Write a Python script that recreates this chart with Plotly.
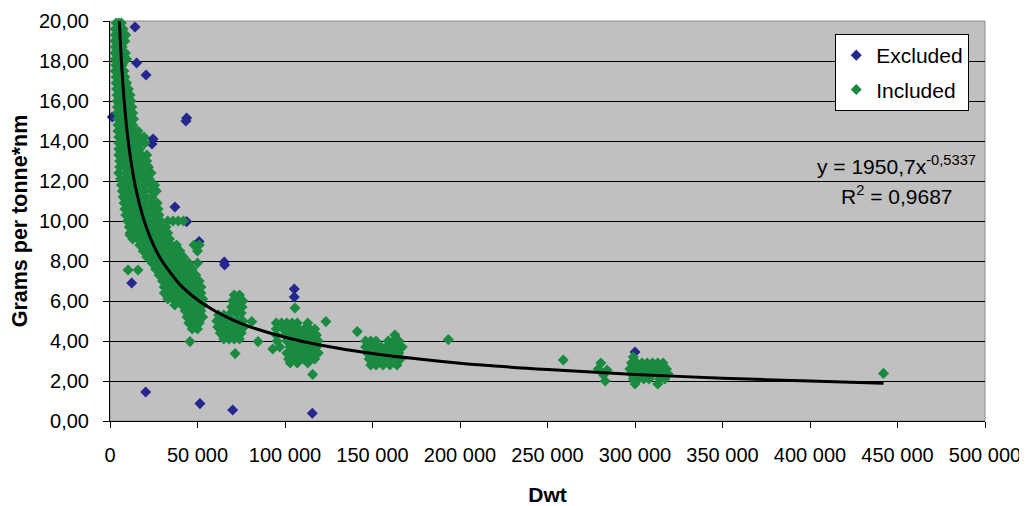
import plotly.graph_objects as go

# ---------------- data ----------------
# Excluded ships (blue)
excluded_dwt = [14300, 15200, 20600, 1300, 43400, 43800, 24600, 24000, 37100, 43800,
                50900, 65300, 65500, 12400, 105300, 105300, 20400, 51400, 70100, 115600, 300000]
excluded_g = [19.7, 17.9, 17.3, 15.2, 15.0, 15.15, 14.1, 13.85, 10.7, 9.97,
              8.97, 7.95, 7.8, 6.9, 6.6, 6.2, 1.45, 0.87, 0.55, 0.39, 3.45]

# Included ships (green), grouped by size cluster as (dwt, grams) pairs
cluster_small = [
    (3500, 19.9), (5000, 19.9), (6500, 19.9),
    (3000, 19.6), (4500, 19.6), (6000, 19.6), (7500, 19.6),
    (3000, 19.3), (5000, 19.3), (7000, 19.3), (9000, 19.3),
    (2800, 19.0), (4500, 19.0), (6500, 19.0), (8500, 19.0),
    (3000, 18.7), (5000, 18.7), (7000, 18.7),
    (2800, 18.4), (4800, 18.4), (6800, 18.4), (8800, 18.4),
    (3000, 18.1), (5500, 18.1), (8000, 18.1), (9500, 18.1),
    (3200, 17.8), (5000, 17.8), (7000, 17.8),
    (3000, 17.5), (5500, 17.5), (8000, 17.5),
    (3500, 17.2), (6000, 17.2), (8500, 17.2),
    (3500, 16.9), (5500, 16.9), (7500, 16.9), (9500, 16.9),
    (3800, 16.6), (6000, 16.6), (8500, 16.6), (10500, 16.6),
    (4000, 16.3), (6500, 16.3), (9000, 16.3), (11500, 16.3),
    (4000, 16.0), (6500, 16.0), (9000, 16.0), (12000, 16.0),
    (4200, 15.7), (7000, 15.7), (9500, 15.7), (12500, 15.7),
    (4200, 15.4), (7000, 15.4), (10000, 15.4), (13000, 15.4),
    (4500, 15.1), (7500, 15.1), (10500, 15.1), (13500, 15.1),
    (4500, 14.8), (7000, 14.8), (10000, 14.8), (13000, 14.8),
    (4500, 14.5), (7500, 14.5), (10500, 14.5), (13500, 14.5), (16000, 14.5),
    (5000, 14.2), (8000, 14.2), (11000, 14.2), (14000, 14.2), (17000, 14.2), (19500, 14.2),
    (5000, 13.9), (8000, 13.9), (11000, 13.9), (14000, 13.9), (17000, 13.9), (20000, 13.9),
    (5000, 13.6), (8000, 13.6), (11000, 13.6), (14000, 13.6), (17000, 13.6),
    (5000, 13.3), (8500, 13.3), (11500, 13.3), (14500, 13.3), (18000, 13.3), (21000, 13.3),
    (5500, 13.0), (8500, 13.0), (11500, 13.0), (14500, 13.0), (17500, 13.0), (21000, 13.0),
    (5500, 12.7), (9000, 12.7), (12000, 12.7), (15000, 12.7), (18500, 12.7), (22000, 12.7),
    (5000, 12.4), (9000, 12.4), (12000, 12.4), (15000, 12.4), (18000, 12.4), (21500, 12.4), (23500, 12.4),
    (6000, 12.1), (9500, 12.1), (12500, 12.1), (16000, 12.1), (19000, 12.1), (22500, 12.1),
    (6500, 11.8), (10000, 11.8), (13000, 11.8), (16000, 11.8), (19500, 11.8), (23000, 11.8), (25500, 11.8),
    (7000, 11.5), (10000, 11.5), (13000, 11.5), (16500, 11.5), (20000, 11.5), (24000, 11.5), (26500, 11.5),
    (7500, 11.2), (10500, 11.2), (13500, 11.2), (17000, 11.2), (20500, 11.2), (24000, 11.2),
    (8000, 10.9), (11000, 10.9), (14000, 10.9), (17000, 10.9), (20500, 10.9), (24000, 10.9), (27000, 10.9),
    (8500, 10.6), (11500, 10.6), (14500, 10.6), (18000, 10.6), (21000, 10.6), (24500, 10.6), (27500, 10.6),
    (9000, 10.3), (12000, 10.3), (15000, 10.3), (18000, 10.3), (21500, 10.3), (25000, 10.3), (28000, 10.3),
    (10000, 10.0), (13000, 10.0), (16000, 10.0), (19000, 10.0), (22000, 10.0), (25500, 10.0),
    (29000, 10.0), (33000, 10.0), (36000, 10.0), (39000, 10.0), (42000, 10.0),
    (11000, 9.7), (14000, 9.7), (17000, 9.7), (20000, 9.7), (23000, 9.7), (26000, 9.7), (29000, 9.7), (32000, 9.7),
    (11500, 9.4), (15000, 9.4), (18000, 9.4), (21000, 9.4), (24000, 9.4), (27000, 9.4), (30000, 9.4), (33000, 9.4),
    (13000, 9.1), (16000, 9.1), (19000, 9.1), (22000, 9.1), (25000, 9.1), (28000, 9.1), (31000, 9.1), (34000, 9.1),
    (11400, 9.3), (10300, 7.55), (16000, 7.55),
]

cluster_handy = [
    (17000, 8.8), (20000, 8.8), (23000, 8.8), (26000, 8.8), (29000, 8.8), (32000, 8.8), (35000, 8.8),
    (38000, 8.8), (48000, 8.8), (51000, 8.8),
    (19000, 8.5), (22000, 8.5), (25000, 8.5), (28000, 8.5), (31000, 8.5), (34000, 8.5), (37000, 8.5),
    (40000, 8.5), (50000, 8.5),
    (21000, 8.2), (24000, 8.2), (27000, 8.2), (30000, 8.2), (33000, 8.2), (36000, 8.2), (39000, 8.2), (42000, 8.2),
    (24000, 7.9), (27000, 7.9), (30000, 7.9), (33000, 7.9), (36000, 7.9), (39000, 7.9), (42000, 7.9),
    (45000, 7.9), (50000, 7.9),
    (26000, 7.6), (29000, 7.6), (32000, 7.6), (35000, 7.6), (38000, 7.6), (41000, 7.6), (44000, 7.6), (47000, 7.6),
    (28000, 7.3), (31000, 7.3), (34000, 7.3), (37000, 7.3), (40000, 7.3), (43000, 7.3), (46000, 7.3), (49000, 7.3),
    (30000, 7.0), (33000, 7.0), (36000, 7.0), (39000, 7.0), (42000, 7.0), (45000, 7.0), (48000, 7.0), (51000, 7.0),
    (31000, 6.7), (34000, 6.7), (37000, 6.7), (40000, 6.7), (43000, 6.7), (46000, 6.7), (49000, 6.7), (52000, 6.7),
    (31000, 6.4), (34000, 6.4), (37000, 6.4), (40000, 6.4), (43000, 6.4), (46000, 6.4), (49000, 6.4), (52000, 6.4),
    (33000, 6.1), (36000, 6.1), (39000, 6.1), (42000, 6.1), (45000, 6.1), (48000, 6.1), (51000, 6.1), (53000, 6.1),
    (37000, 5.8), (41000, 5.8), (44000, 5.8), (47000, 5.8), (50000, 5.8), (53000, 5.8),
    (43000, 5.5), (46000, 5.5), (49000, 5.5), (52000, 5.5),
    (44000, 5.2), (47000, 5.2), (50000, 5.2), (53000, 5.2),
    (45000, 4.9), (48000, 4.9), (51000, 4.9),
    (47000, 4.6), (50000, 4.6),
    (45700, 3.97),
]

cluster_panamax = [
    (71000, 6.3), (74000, 6.3),
    (70000, 6.0), (73000, 6.0), (76000, 6.0),
    (69500, 5.7), (72500, 5.7), (75500, 5.7),
    (69000, 5.4), (72000, 5.4), (75000, 5.4),
    (62000, 5.3), (65000, 5.3),
    (61000, 5.0), (64000, 5.0), (67000, 5.0), (70000, 5.0), (73000, 5.0), (76000, 5.0),
    (61500, 4.7), (64500, 4.7), (67500, 4.7), (70500, 4.7), (73500, 4.7), (76500, 4.7),
    (63000, 4.4), (66000, 4.4), (69000, 4.4), (72000, 4.4), (75000, 4.4),
    (65000, 4.1), (68000, 4.1), (71000, 4.1), (74000, 4.1),
    (71500, 3.37), (84600, 3.97), (81000, 4.97),
]

cluster_aframax = [
    (95000, 4.9), (98000, 4.9), (101000, 4.9), (104000, 4.9), (107000, 4.9), (113000, 4.9),
    (95000, 4.6), (99000, 4.6), (102000, 4.6), (105000, 4.6), (108000, 4.6), (111000, 4.6), (114000, 4.6), (117000, 4.6),
    (95000, 4.3), (100000, 4.3), (103000, 4.3), (106000, 4.3), (109000, 4.3), (112000, 4.3), (115000, 4.3), (118000, 4.3),
    (95500, 4.0), (101000, 4.0), (104000, 4.0), (107000, 4.0), (110000, 4.0), (113000, 4.0), (116000, 4.0), (119000, 4.0),
    (97000, 3.7), (103000, 3.7), (106000, 3.7), (109000, 3.7), (112000, 3.7), (115000, 3.7), (118000, 3.7),
    (101000, 3.4), (104000, 3.4), (107000, 3.4), (110000, 3.4), (113000, 3.4), (116000, 3.4), (119000, 3.4),
    (102000, 3.1), (105000, 3.1), (108000, 3.1), (111000, 3.1), (114000, 3.1), (117000, 3.1),
    (103000, 2.9), (107000, 2.9), (113000, 2.9),
    (105700, 5.65), (115800, 2.33), (123400, 4.97), (93000, 3.6),
]

cluster_suezmax = [
    (162800, 4.3),
    (146000, 4.0), (149000, 4.0), (152000, 4.0), (159000, 4.0), (162000, 4.0), (165000, 4.0),
    (146000, 3.7), (149000, 3.7), (152000, 3.7), (155000, 3.7), (158000, 3.7), (161000, 3.7), (164000, 3.7), (167000, 3.7),
    (147000, 3.4), (150000, 3.4), (153000, 3.4), (156000, 3.4), (159000, 3.4), (162000, 3.4), (165000, 3.4),
    (148000, 3.1), (151000, 3.1), (154000, 3.1), (157000, 3.1), (160000, 3.1), (163000, 3.1), (166000, 3.1),
    (149000, 2.8), (152000, 2.8), (156000, 2.8), (160000, 2.8), (164000, 2.8),
    (141300, 4.47), (193300, 4.07),
]

cluster_vlcc = [
    (259000, 3.05),
    (279000, 2.6), (280500, 2.9), (282000, 2.3), (283000, 2.0), (284000, 2.55),
    (299000, 3.2),
    (298000, 2.9), (301000, 2.9), (304000, 2.9), (307000, 2.9), (310000, 2.9), (313000, 2.9), (316000, 2.9),
    (297000, 2.6), (300000, 2.6), (303000, 2.6), (306000, 2.6), (309000, 2.6), (312000, 2.6), (315000, 2.6), (318000, 2.6),
    (298000, 2.35), (301000, 2.35), (304000, 2.35), (307000, 2.35), (310000, 2.35), (313000, 2.35), (316000, 2.35), (319000, 2.35),
    (299000, 2.1), (302000, 2.1), (305000, 2.1), (308000, 2.1), (314000, 2.1), (317000, 2.1),
    (300000, 1.85), (313000, 1.85),
    (442000, 2.38),
]

# Power trendline y = 1950,7 x^-0,5337 as drawn
trend_dwt = [5330, 6000, 7000, 8000, 10000, 12000, 15000, 20000, 25000, 30000, 40000, 50000,
             60000, 70000, 80000, 100000, 120000, 150000, 200000, 250000, 300000, 350000, 400000, 442000]
trend_g = [20.0, 18.79, 17.30, 16.11, 14.30, 12.98, 11.52, 9.88, 8.77, 7.96, 6.82, 6.06,
           5.50, 5.06, 4.71, 4.19, 3.80, 3.37, 2.89, 2.57, 2.33, 2.14, 2.00, 1.89]

equation_text = "y = 1950,7x<sup>-0,5337</sup>"
r2_text = "R<sup>2</sup> = 0,9687"

# ---------------- figure ----------------
included = cluster_small + cluster_handy + cluster_panamax + cluster_aframax + cluster_suezmax + cluster_vlcc
included_dwt = [p[0] for p in included]
included_g = [p[1] for p in included]

BLUE = "#26268F"
GREEN = "#1A8A40"
FONT = "Liberation Sans, Arial, sans-serif"

fig = go.Figure()
fig.add_trace(go.Scatter(x=excluded_dwt, y=excluded_g, mode="markers", name="Excluded",
                         legendgroup="exc",
                         marker=dict(symbol="diamond", size=8.5, color=BLUE, line=dict(width=0)),
                         cliponaxis=False))
fig.add_trace(go.Scatter(x=included_dwt, y=included_g, mode="markers", name="Included",
                         legendgroup="inc",
                         marker=dict(symbol="diamond", size=8.5, color=GREEN, line=dict(width=0)),
                         cliponaxis=False))
fig.add_trace(go.Scatter(x=trend_dwt, y=trend_g, mode="lines", showlegend=False,
                         line=dict(color="black", width=3, shape="spline", smoothing=0.6)))

# the page body has an 8px margin, so the figure is 8px smaller and margins compensate
fig.update_layout(
    width=1019, height=498,
    margin=dict(l=102, r=42, t=13, b=85),
    paper_bgcolor="white", plot_bgcolor="#C0C0C0",
    separators=", ",
    font=dict(family=FONT, size=20, color="black"),
    legend=dict(x=0.982, y=0.9675, xanchor="right", yanchor="top",
                bgcolor="white", bordercolor="black", borderwidth=1,
                font=dict(size=21), itemwidth=30, tracegroupgap=4),
    shapes=[dict(type="rect", xref="paper", yref="paper", x0=0, x1=1, y0=0, y1=1,
                 line=dict(color="#8C8C8C", width=1), layer="below")],
    annotations=[
        dict(text=equation_text, xref="paper", yref="paper", x=0.899, y=0.64,
             xanchor="center", yanchor="middle", showarrow=False, font=dict(size=21)),
        dict(text=r2_text, xref="paper", yref="paper", x=0.899, y=0.565,
             xanchor="center", yanchor="middle", showarrow=False, font=dict(size=21)),
    ],
)
fig.update_xaxes(range=[0, 500000], dtick=50000, tick0=0, tickformat=",d",
                 showgrid=False, zeroline=False, showline=True, linecolor="black", linewidth=1,
                 ticks="outside", ticklen=6, tickcolor="black", ticklabelstandoff=10,
                 title=dict(text="<b>Dwt</b>", font=dict(size=21), standoff=22),
                 automargin=False)
fig.update_yaxes(range=[0, 20], dtick=2, tick0=0, tickformat=".2f",
                 showgrid=True, gridcolor="black", gridwidth=1,
                 zeroline=False, showline=True, linecolor="black", linewidth=1,
                 ticks="outside", ticklen=6, tickcolor="black", ticklabelstandoff=10,
                 title=dict(text="<b>Grams per tonne*nm</b>", font=dict(size=21.5), standoff=12),
                 automargin=False)

fig.write_html("out.html")
